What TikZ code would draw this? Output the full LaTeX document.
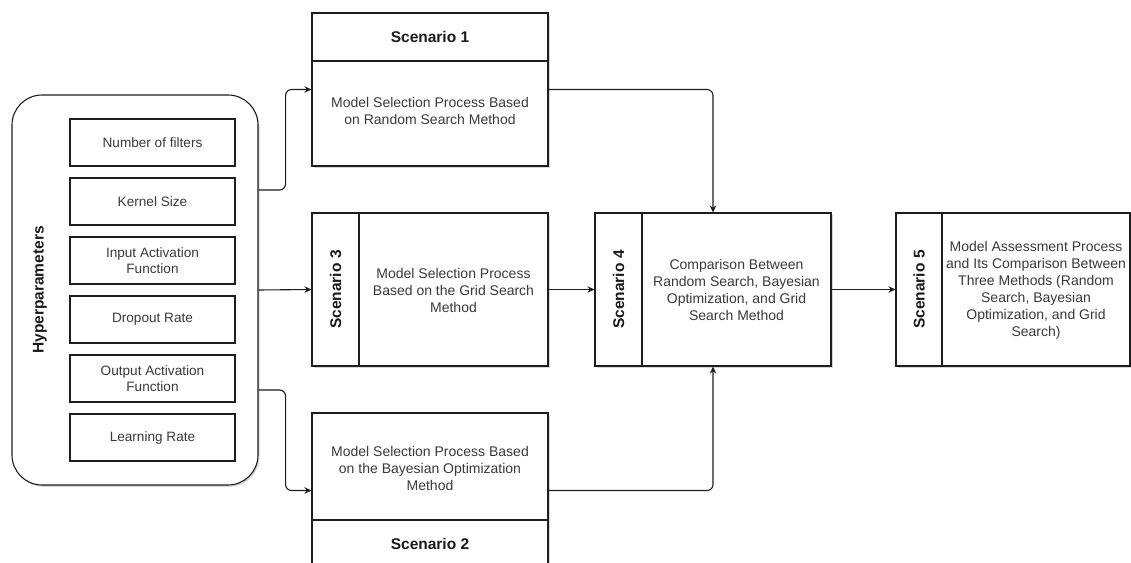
\documentclass[tikz,border=0pt]{standalone}
\usepackage{fontspec}
\setmainfont{Liberation Sans}
\usetikzlibrary{arrows.meta,shadows,calc}
\definecolor{linec}{HTML}{1E1E1E}
\definecolor{txtc}{HTML}{3A3A3A}
\definecolor{hdrc}{HTML}{1A1A1A}
\begin{document}
\begin{tikzpicture}[x=1pt,y=-1pt,
  box/.style={draw=linec,line width=1.1pt,fill=white,rectangle,inner sep=0pt,
    drop shadow={shadow xshift=1.5pt,shadow yshift=-1.8pt,fill=black,opacity=0.16}},
  hbox/.style={draw=linec,line width=1.1pt,fill=white,rectangle,inner sep=0pt},
  hdr/.style={font=\fontsize{15.5}{18}\selectfont\bfseries,text=hdrc,inner sep=0pt},
  body/.style={font=\fontsize{14}{17}\selectfont,text=txtc,align=center,inner sep=0pt},
  param/.style={hbox,minimum width=165pt,minimum height=47pt,font=\fontsize{13.6}{16.5}\selectfont,text=txtc,align=center},
  conn/.style={draw=linec,line width=1.1pt,rounded corners=6pt,-{Stealth[length=7pt,width=6.5pt]}}
]
\clip (0,0) rectangle (1131,562);
\fill[white] (0,0) rectangle (1131,562);

% Hyperparameters container
\node[box,rounded corners=30pt,minimum width=246pt,minimum height=390pt] (hp) at (135,290) {};
\node[hdr,rotate=90] (hpt) at (40,290) {Hyperparameters};
\node[param] (p1) at (152.5,142.5) {Number of filters};
\node[param] (p2) at (152.5,201.5) {Kernel Size};
\node[param] (p3) at (152.5,260.5) {Input Activation\\Function};
\node[param] (p4) at (152.5,319.5) {Dropout Rate};
\node[param] (p5) at (152.5,378.5) {Output Activation\\Function};
\node[param] (p6) at (152.5,437.5) {Learning Rate};

% Scenario 1
\node[box,minimum width=236pt,minimum height=153pt] (s1) at (430,89.5) {};
\node[hbox,minimum width=236pt,minimum height=48pt,anchor=north] (s1h) at (s1.north) {};
\node[hdr] (s1t) at (s1h) {Scenario 1};
\node[body] (s1b) at (430,111) {Model Selection Process Based\\on Random Search Method};

% Scenario 3
\node[box,minimum width=236pt,minimum height=153pt] (s3) at (430,289.5) {};
\node[hbox,minimum width=47pt,minimum height=153pt,anchor=west] (s3h) at (s3.west) {};
\node[hdr,rotate=90] (s3t) at (s3h) {Scenario 3};
\node[body] (s3b) at (453.5,290) {Model Selection Process\\Based on the Grid Search\\Method};

% Scenario 2
\node[box,minimum width=236pt,minimum height=155pt] (s2) at (430,490.5) {};
\node[hbox,minimum width=236pt,minimum height=48pt,anchor=south] (s2h) at (s2.south) {};
\node[hdr] (s2t) at (s2h) {Scenario 2};
\node[body] (s2b) at (430,468) {Model Selection Process Based\\on the Bayesian Optimization\\Method};

% Scenario 4
\node[box,minimum width=236pt,minimum height=153pt] (s4) at (713,289.5) {};
\node[hbox,minimum width=47pt,minimum height=153pt,anchor=west] (s4h) at (s4.west) {};
\node[hdr,rotate=90] (s4t) at (s4h) {Scenario 4};
\node[body] (s4b) at (736.5,290) {Comparison Between\\Random Search, Bayesian\\Optimization, and Grid\\Search Method};

% Scenario 5
\node[box,minimum width=234pt,minimum height=153pt] (s5) at (1013,289.5) {};
\node[hbox,minimum width=46pt,minimum height=153pt,anchor=west] (s5h) at (s5.west) {};
\node[hdr,rotate=90] (s5t) at (s5h) {Scenario 5};
\node[body] (s5b) at (1036,290) {Model Assessment Process\\and Its Comparison Between\\Three Methods (Random\\Search, Bayesian\\Optimization, and Grid\\Search)};

% Connectors
\draw[conn] ([yshift=100pt]hp.east) -- ++(27,0) |- (s1.west);
\draw[conn] (hp.east) -- (s3.west);
\draw[conn] ([yshift=-100pt]hp.east) -- ++(27,0) |- (s2.west);
\draw[conn] (s1.east) -| (s4.north);
\draw[conn] (s2.east) -| (s4.south);
\draw[conn] (s3.east) -- (s4.west);
\draw[conn] (s4.east) -- (s5.west);
\end{tikzpicture}
\end{document}
